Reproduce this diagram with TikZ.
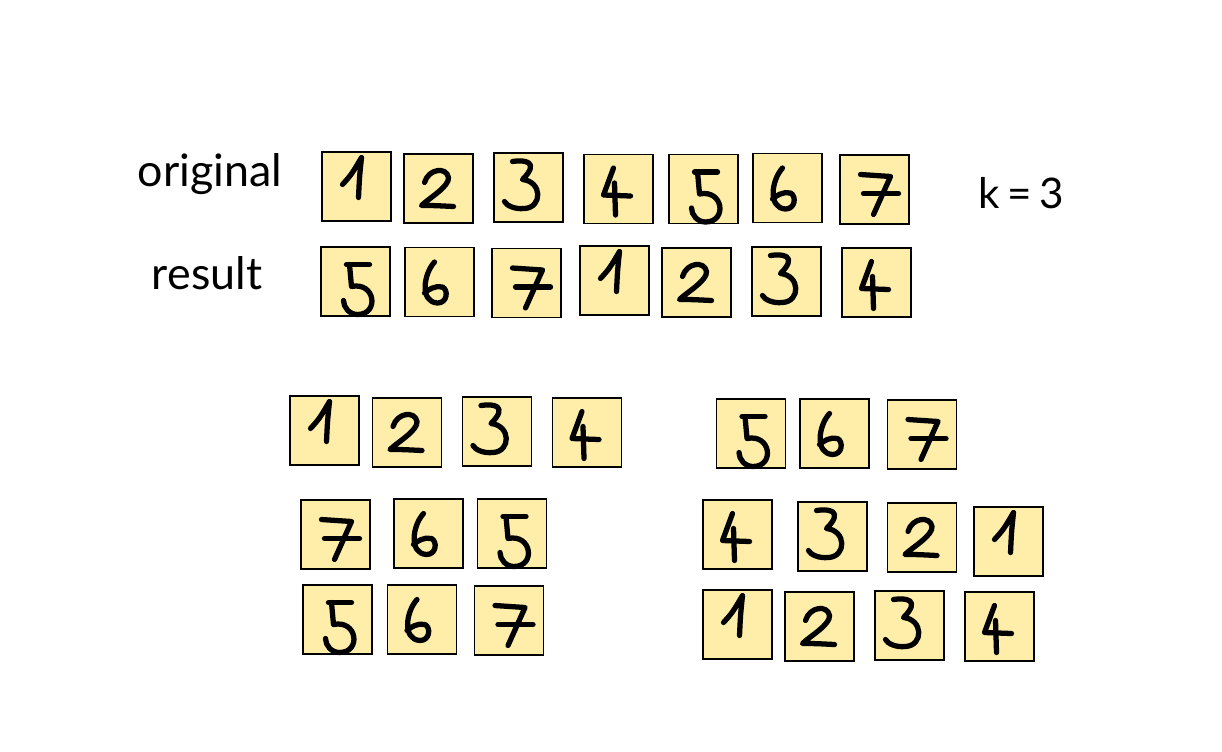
\documentclass[tikz,border=0pt]{standalone}
\usepackage{fontspec}
\setmainfont{Lato}
\usetikzlibrary{positioning}
\definecolor{cardyellow}{HTML}{FFEDAA}
\newcommand\tightsp{\spaceskip=0.18em\relax}
\tikzset{
    card/.style = {draw, rectangle, fill=cardyellow, line width=0.6pt,
        minimum size=1.38cm, inner sep=0pt},
    lbl/.style = {font=\fontsize{25.5}{30}\selectfont},
    pen/.style = {line width=3pt, line cap=round, line join=round},
    % handwritten digits, coordinates in pixels from the card centre
    pics/hand/.style = {code={
        \ifcase#1\or
        \draw[pen] (-14,-2) .. controls (-5,-12) .. (5,-29) .. controls (3,-10) .. (2,11);
        \or
        \draw[pen] (-14,-6) .. controls (-10,-20) and (8,-22) .. (10,-11) .. controls (11,-2) and (-10,10) .. (-17,17) .. controls (-5,17) .. (15,18);
        \or
        \draw[pen] (-16,-26) .. controls (-4,-28) and (12,-26) .. (-6,-8) .. controls (14,-6) and (14,20) .. (-4,21) .. controls (-14,22) and (-22,18) .. (-24,14);
        \or
        \draw[pen] (-5,-21) -- (-15,6) -- (12,7);
        \draw[pen] (-4,-6) -- (-3,26);
        \or
        \draw[pen] (-9,-17) -- (14,-17);
        \draw[pen] (-6,-17) -- (-4,5) .. controls (20,0) and (24,33) .. (2,33) .. controls (-6,33) and (-12,26) .. (-12,19);
        \or
        \draw[pen] (-5,-20) .. controls (-16,-8) and (-20,20) .. (-2,21) .. controls (8,21) and (9,8) .. (3,5) .. controls (-4,3) and (-12,8) .. (-15,11);
        \or
        \draw[pen] (-14,-15) -- (16,-13) -- (-1,25);
        \draw[pen] (-11,4) -- (24,4);
        \fi
    }}
}
\begin{document}
\begin{tikzpicture}[x=0.02cm, y=-0.02cm]
    \useasboundingbox (0,0) rectangle (1222,751);
    \node[lbl] (orig) at (210,174) {original};
    \node[lbl] (res) at (207,273) {result};
    \node[lbl, font=\fontsize{24}{30}\selectfont\tightsp] (kval) at (1021,193) {k = 3};
    % top: original and rotated sequence
    \foreach \n/\x/\y/\dg in {o1/356.5/186.5/1, o2/438.5/188.5/2, o3/528.5/187.5/3, o4/618.5/189/4,
        o5/703.5/189/5, o6/787.5/188/6, o7/874.5/189.5/7,
        r1/355.5/281.5/5, r2/439.5/282/6, r3/526.5/283/7, r4/614.5/280.5/1,
        r5/696.5/282.5/2, r6/786.5/281.5/3, r7/876.5/282.5/4}
    {\node[card] (\n) at (\x,\y) {}; \pic at (\n) {hand=\dg};}
    % bottom left: reverse the last k
    \foreach \n/\x/\y/\dg in {a1/324.5/430.5/1, a2/407/432.5/2, a3/497/431.5/3, a4/587/432.5/4,
        b1/335.5/534.5/7, b2/428.5/533.5/6, b3/512/533.5/5,
        c1/337.5/619.5/5, c2/422/619.5/6, c3/509/620.5/7}
    {\node[card] (\n) at (\x,\y) {}; \pic at (\n) {hand=\dg};}
    % bottom right: reverse the first n-k
    \foreach \n/\x/\y/\dg in {p1/751/433.5/5, p2/834.5/433.5/6, p3/922/434.5/7,
        q1/737.5/534.5/4, q2/832.5/536.5/3, q3/922/537.5/2, q4/1008.5/541.5/1,
        s1/737.5/624.5/1, s2/819.5/626.5/2, s3/909.5/625.5/3, s4/999.5/626.5/4}
    {\node[card] (\n) at (\x,\y) {}; \pic at (\n) {hand=\dg};}
\end{tikzpicture}
\end{document}
